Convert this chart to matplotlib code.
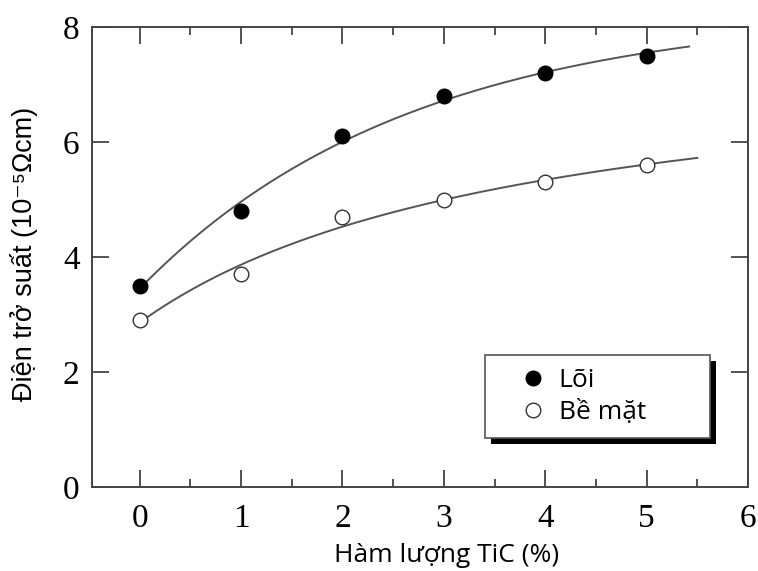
import numpy as np
import matplotlib
matplotlib.use("Agg")
import matplotlib.pyplot as plt
from matplotlib.ticker import MultipleLocator
from matplotlib.patches import Rectangle
from matplotlib.transforms import IdentityTransform

# data
tic = [0, 1, 2, 3, 4, 5]
core = [3.5, 4.8, 6.1, 6.8, 7.2, 7.5]
surface = [2.9, 3.7, 4.7, 5.0, 5.3, 5.6]
labels = ["Lõi", "Bề mặt"]


def fit_curve(x, y, kind):
    # y = a + b*g(x, c); scan c, solve a/b by least squares
    x = np.asarray(x, float)
    y = np.asarray(y, float)
    if kind == "exp":
        g = lambda t, c: np.exp(-c * t)
    else:
        g = lambda t, c: t / (c + t)
    best = None
    for c in np.linspace(0.05, 10.0, 800):
        A = np.column_stack([np.ones_like(x), g(x, c)])
        coef = np.linalg.lstsq(A, y, rcond=None)[0]
        err = np.sum((A @ coef - y) ** 2)
        if best is None or err < best[0]:
            best = (err, coef, c)
    _, (a, b), c = best
    return lambda t: a + b * g(t, c)


fig = plt.figure(figsize=(7.58, 5.71), dpi=100)
ax = fig.add_axes([0.1214, 0.1471, 0.8654, 0.8056])

line_col = "#555555"
for y, xend, kind in ((core, 5.42, "exp"), (surface, 5.5, "hyp")):
    f = fit_curve(tic, y, kind)
    xx = np.linspace(0, xend, 200)
    ax.plot(xx, f(xx), color=line_col, lw=1.4, zorder=2)

h1, = ax.plot(tic, core, "o", ms=10.5, mfc="black", mec="black", zorder=3)
h2, = ax.plot(tic, surface, "o", ms=10.5, mfc="white", mec="#333333", mew=1.0, zorder=3)

ax.set_xlim(-0.47, 6)
ax.set_ylim(0, 8)
ax.xaxis.set_major_locator(MultipleLocator(1))
ax.xaxis.set_minor_locator(MultipleLocator(0.5))
ax.yaxis.set_major_locator(MultipleLocator(2))
ax.tick_params(which="both", direction="in", top=True, right=True, color="#444444", width=1.3)
ax.tick_params(which="major", length=12, labelsize=24)
ax.tick_params(axis="x", which="major", pad=12)
ax.tick_params(axis="y", which="major", pad=9)
ax.tick_params(which="minor", length=6)
for lab in ax.get_xticklabels() + ax.get_yticklabels():
    lab.set_family("Liberation Serif")
for s in ax.spines.values():
    s.set_color("#444444")
    s.set_linewidth(1.4)

ax.set_xlabel("Hàm lượng TiC (%)", family="Open Sans", fontsize=19)
ax.xaxis.set_label_coords(0.54, -0.122)
ax.set_ylabel("Điện trở suất (10⁻⁵Ωcm)", family=["Liberation Sans", "DejaVu Sans"],
              fontsize=19.5)
ax.yaxis.set_label_coords(-0.082, 0.507)

leg = ax.legend([h1, h2], labels, loc="upper left",
                bbox_to_anchor=(0.599, 0.287, 0.343, 0.0), mode="expand",
                frameon=True, fancybox=False, framealpha=1,
                prop={"family": "Open Sans", "size": 19}, borderpad=0.5,
                handlelength=2.65, handletextpad=-0.35, labelspacing=0.25,
                borderaxespad=0)
leg.get_frame().set_edgecolor("#555555")
leg.get_frame().set_facecolor("white")
leg.get_frame().set_linewidth(1.2)
leg.set_zorder(5)

# thick black drop shadow under the legend box
fig.canvas.draw()
bb = leg.get_frame().get_window_extent()
ax.add_patch(Rectangle((bb.x0 + 6, bb.y0 - 6), bb.width, bb.height, facecolor="black",
                       edgecolor="none", transform=IdentityTransform(), clip_on=False,
                       zorder=4.9))

fig.savefig("out.png", dpi=100)
